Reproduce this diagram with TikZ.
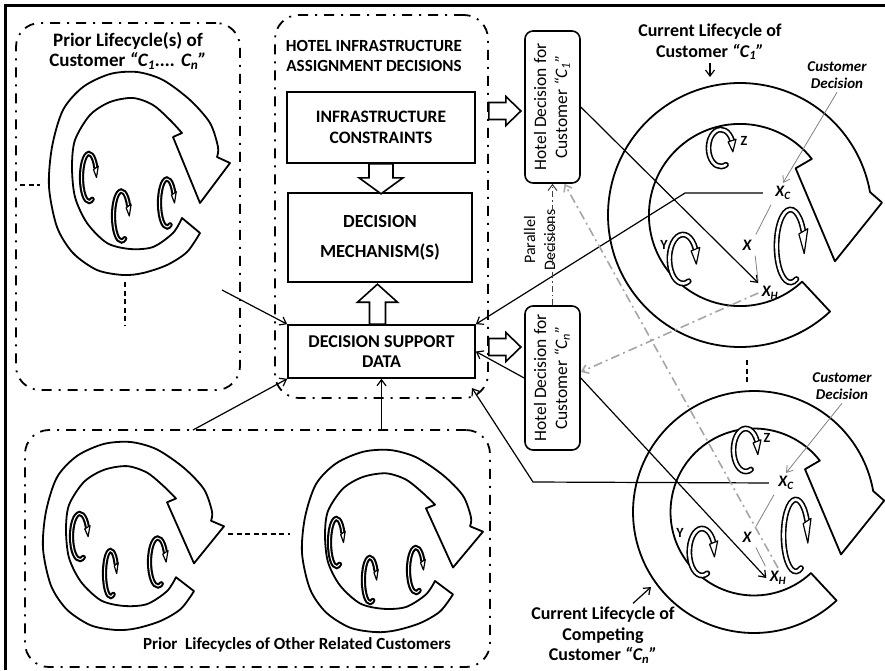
\documentclass[tikz,border=0pt]{standalone}
\usepackage{fontspec}
\setmainfont{Carlito}
\usetikzlibrary{calc, arrows.meta}

% big lifecycle ring of the current customer: centre x, centre y, radius
\newcommand{\currentcycle}[3]{%
  \draw[cycleline, shift={(#1,#2)}, scale=#3] (-47:1) arc[start angle=-47, end angle=-350, radius=1]
    -- (5:1.08) -- (-26:0.8) -- (40:0.55) -- (38:0.69)
    arc[start angle=-322, end angle=-47, radius=0.69] -- cycle;}

% lifecycle ring of a prior customer: centre x, centre y, xscale, yscale
\newcommand{\priorcycle}[4]{%
  \draw[cycleline, shift={(#1,#2)}, xscale=#3, yscale=#4]
    plot[smooth] coordinates {(50,-59) (37,-78) (17,-91) (-7,-99) (-27,-101) (-53,-96) (-77,-79) (-93,-53) (-101,-13) (-98,27) (-87,64) (-67,87) (-40,100) (-13,102) (13,94) (40,74) (60,51) (68,27) (67,17)}
    -- (80,11) -- (50,-29) -- (23,37)
    -- plot[smooth] coordinates {(32,41) (20,54) (3,69) (-17,76) (-40,72) (-60,59) (-75,34) (-78,7) (-75,-23) (-63,-49) (-43,-69) (-20,-75) (3,-73) (23,-59) (32,-44)}
    -- cycle;}

% small sub-cycle: x, y, x radius, y radius, line style, tip angle
\newcommand{\minicycle}[6]{%
  \begin{scope}[shift={(#1,#2)}, xscale=#3, yscale=#4]
    \draw[#5] (-65:1) arc[start angle=-65, end angle=-335, radius=1];
    \draw[minihead] (21:1.32) -- (#6:1) -- (29:0.68) -- cycle;
  \end{scope}}

% block arrow: tail, direction, length, shaft half width, head half width, head length
\newcommand{\blockarrow}[6]{%
  \draw[blockline, shift={#1}, rotate=#2] (0,-#4) -- ({#3-#6},-#4) -- ({#3-#6},-#5) -- (#3,0)
    -- ({#3-#6},#5) -- ({#3-#6},#4) -- (0,#4) -- cycle;}

\tikzset{
    groupbox/.style={draw, line width=1.8pt, rounded corners=24pt, dash pattern=on 10pt off 7pt on 2pt off 7pt},
    procbox/.style={draw, line width=1.6pt, align=center, font=\bfseries\fontsize{17.5}{21}\selectfont},
    hdbox/.style={draw, line width=1.6pt, rounded corners=8pt, minimum width=55pt, inner sep=0pt, font=\fontsize{17.5}{21}\selectfont},
    grouptitle/.style={align=center, font=\bfseries\fontsize{17.5}{20.5}\selectfont},
    circtitle/.style={align=center, font=\bfseries\fontsize{18}{20.5}\selectfont},
    decnote/.style={align=center, font=\bfseries\itshape\fontsize{15}{17.5}\selectfont},
    xmark/.style={font=\bfseries\itshape\fontsize{16}{19}\selectfont},
    letter/.style={font=\bfseries\fontsize{14}{17}\selectfont},
    cycleline/.style={draw, line width=1.8pt, line join=round},
    minicyc/.style={double=white, double distance=2.6pt, line width=1.6pt, line cap=round},
    darkcyc/.style={double=white, double distance=1pt, line width=2.1pt, line cap=round},
    minihead/.style={draw, fill=white, line width=1.2pt, line join=round},
    blockline/.style={draw, fill=white, line width=1.6pt},
    conn/.style={line width=1.2pt, -{Straight Barb[length=6pt, width=9pt]}},
    greyconn/.style={gray, line width=0.8pt, -{Straight Barb[length=6pt, width=8pt]}},
    greydash/.style={gray!70, line width=1.6pt, dash pattern=on 9pt off 4pt on 2pt off 4pt, -{Straight Barb[length=6pt, width=9pt]}},
    darkdash/.style={black!75, line width=1pt, dash pattern=on 6pt off 3pt on 1.5pt off 3pt, -{Straight Barb[length=6pt, width=9pt]}},
    moredash/.style={line width=1.2pt, dash pattern=on 5pt off 3.5pt},
    }

\begin{document}
\begin{tikzpicture}[x=1pt, y=1pt]
\useasboundingbox (0,0) rectangle (885,-670);
\draw[line width=2.4pt] (885,-5.5) -- (5.5,-5.5) -- (5.5,-670);

% dash-dot groups
\node[groupbox, minimum width=224pt, minimum height=367pt] (prior) at (128,-206.5) {};
\node[groupbox, minimum width=213pt, minimum height=383pt] (hotel) at (381.5,-206.5) {};
\node[groupbox, minimum width=465pt, minimum height=237pt] (others) at (257.5,-548.5) {};

\node[grouptitle, font=\bfseries\fontsize{19}{20.5}\selectfont] (priortitle) at (128,-51) {Prior Lifecycle(s) of\\Customer \textit{“C\textsubscript{1}.... C\textsubscript{n}”}};
\node[grouptitle, font=\bfseries\fontsize{17}{20.5}\selectfont] (hoteltitle) at (374,-56) {HOTEL INFRASTRUCTURE\\ASSIGNMENT DECISIONS};
\node[grouptitle, font=\bfseries\fontsize{17}{20}\selectfont] (otherstitle) at (297,-645) {Prior\ \ Lifecycles of Other Related Customers};

% hotel decision making
\node[procbox, minimum width=188pt, minimum height=71pt] (ic) at (381,-127.5) {INFRASTRUCTURE\\CONSTRAINTS};
\node[procbox, minimum width=184pt, minimum height=89pt, font=\bfseries\fontsize{18.5}{30}\selectfont] (dm) at (380,-237.5) {DECISION\\MECHANISM(S)};
\node[procbox, minimum width=187pt, minimum height=53pt, font=\bfseries\fontsize{18}{20.5}\selectfont] (dsd) at (381.5,-351.5) {DECISION SUPPORT\\DATA};

\node[hdbox, minimum height=152pt] (hd1) at (552.5,-107) {\rotatebox{90}{\begin{tabular}{@{}c@{}}Hotel Decision for\\Customer \textit{“C\textsubscript{1}”}\end{tabular}}};
\node[hdbox, minimum height=144pt] (hdn) at (552.5,-378) {\rotatebox{90}{\begin{tabular}{@{}c@{}}Hotel Decision for\\Customer \textit{“C\textsubscript{n}”}\end{tabular}}};
\node[font=\fontsize{16}{20}\selectfont] (parallel) at (541,-240) {\rotatebox{90}{\begin{tabular}{@{}c@{}}Parallel\\Decisions\end{tabular}}};

\blockarrow{(ic.south)}{-90}{30}{12}{22}{16}
\blockarrow{([xshift=-4pt]dsd.north)}{90}{40}{8}{20}{18}
\coordinate (ba1) at ($(hotel.east |- hd1.west)+(0,-4)$);
\coordinate (ba2) at ($(hotel.east |- hdn.west)+(0,31)$);
\blockarrow{(ba1)}{0}{32}{8.5}{14.5}{15}
\blockarrow{(ba2)}{0}{32}{8.5}{14.5}{15}

% prior lifecycles
\priorcycle{150}{-174}{1}{1}
\priorcycle{144}{-536.5}{1}{0.926}
\priorcycle{403}{-541.5}{1}{0.897}
\minicycle{89}{-177.5}{7.5}{24}{darkcyc}{0}
\minicycle{121.4}{-216}{7.9}{25}{darkcyc}{0}
\minicycle{167}{-203}{7.5}{24}{darkcyc}{0}
\minicycle{79.8}{-536.5}{8.3}{23}{darkcyc}{0}
\minicycle{110.6}{-573.5}{6.1}{23}{darkcyc}{0}
\minicycle{157.8}{-562}{8.3}{24}{darkcyc}{0}
\minicycle{336.5}{-542.5}{7}{24}{darkcyc}{0}
\minicycle{370}{-580}{6.6}{22.5}{darkcyc}{0}
\minicycle{416}{-570}{7.5}{22.5}{darkcyc}{0}
\draw[moredash] (20,-185) -- (40,-185);
\draw[moredash] (125,-282) -- (125,-325);
\draw[moredash] (228,-534) -- (290,-534);

% current lifecycles
\currentcycle{740}{-215}{132}
\currentcycle{754}{-512}{121}
\draw[moredash] (747,-360) -- (747,-385);
\minicycle{720.8}{-148}{12.3}{18.5}{minicyc}{-12}
\minicycle{683}{-259}{13.6}{24.5}{minicyc}{-12}
\minicycle{790.5}{-246}{14}{36.5}{minicyc}{-12}
\minicycle{745.8}{-450}{12.3}{21.5}{minicyc}{-12}
\minicycle{702}{-552}{12.7}{23.5}{minicyc}{-12}
\minicycle{795.8}{-535.5}{12.3}{36}{minicyc}{-12}

\node[letter] (z1) at (744,-141) {Z};
\node[letter] (y1) at (664,-245) {Y};
\node[letter] (z2) at (767,-438) {Z};
\node[letter] (y2) at (680,-533) {Y};

\node[xmark] (xc1) at (783,-193) {X\textsubscript{C}};
\node[xmark] (x1) at (747,-245) {X};
\node[xmark] (xh1) at (770,-293) {X\textsubscript{H}};
\node[xmark] (xc2) at (786,-483) {X\textsubscript{C}};
\node[xmark] (x2) at (747,-537) {X};
\node[xmark] (xh2) at (778,-578) {X\textsubscript{H}};

\node[circtitle] (cl1) at (710,-42) {Current Lifecycle of\\Customer \textit{“C\textsubscript{1}”}};
\node[circtitle] (cl2) at (603,-635) {Current Lifecycle of\\Competing\\Customer \textit{“C\textsubscript{n}”}};
\node[decnote] (cd1) at (837,-75) {Customer\\Decision};
\node[decnote] (cd2) at (842,-386) {Customer\\Decision};

% free ends
\coordinate (priorout) at (222,-290);
\coordinate (othersout) at (193,-430);
\coordinate (bend1) at (685,-193);
\coordinate (bend2) at (533,-482);
\coordinate (dsdin) at (472,-388);
\coordinate (ring1top) at (710,-77);
\coordinate (ring2edge) at (651,-587);

% connectors
\draw[conn] (priorout) -- (dsd.north west);
\draw[conn] (othersout) -- (dsd.south west);
\draw[conn] (others.north -| dsd.south) -- (dsd.south);
\draw[conn, shorten <=9pt] (xc1.west) -- (bend1) -- (dsd.north east);
\draw[conn, shorten <=6pt] (xc2.west) -- (bend2) -- (dsdin);
\draw[conn] (hdn.west) -- (dsd.east);
\draw[conn] (hd1.east) -- (xh1.north west);
\draw[conn] (hdn.east) -- (xh2.west);
\draw[greydash] (xh2.north) -- ([xshift=12pt]hd1.south);
\draw[greydash] (xh1.west) -- ([yshift=6pt]hdn.east);
\draw[darkdash] (hdn.north) -- (hd1.south);
\draw[greyconn] (cd1.south) -- (xc1.north);
\draw[greyconn] (cd2.south) -- (xc2.north);
\draw[gray, line width=0.8pt, shorten <=2pt, shorten >=2pt] (xc1.south west) -- (x1.north east);
\draw[gray, line width=0.8pt, shorten <=2pt, shorten >=2pt] (x1.south east) -- (xh1.north west);
\draw[gray, line width=0.8pt, shorten <=2pt, shorten >=2pt] (xc2.south west) -- (x2.north east);
\draw[gray, line width=0.8pt, shorten <=2pt, shorten >=2pt] (x2.south east) -- (xh2.north west);
\draw[conn] (cl1.south) -- (ring1top);
\draw[conn] ([xshift=30pt]cl2.north) -- (ring2edge);
\end{tikzpicture}
\end{document}
